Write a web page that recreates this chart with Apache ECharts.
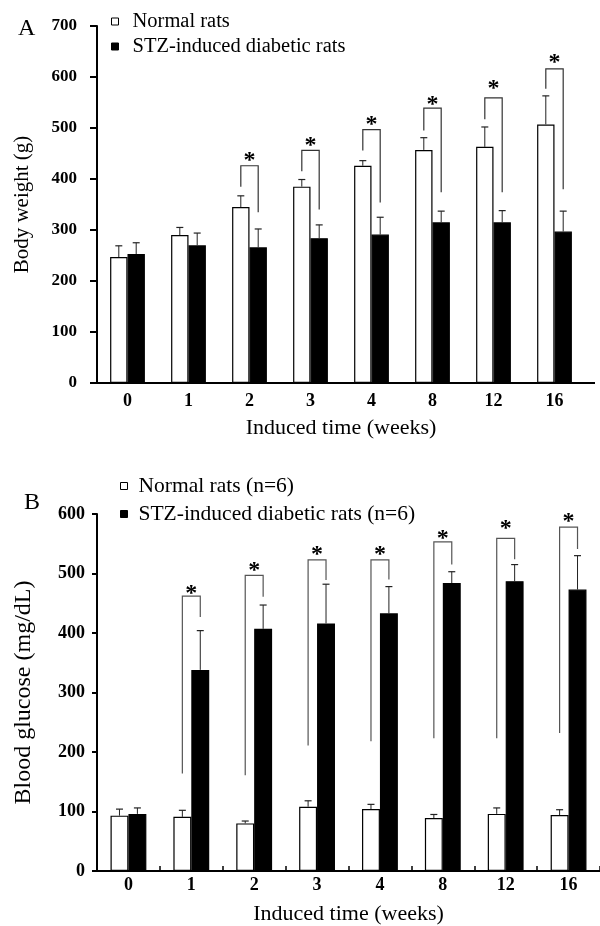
<!DOCTYPE html>
<html>
<head>
<meta charset="utf-8">
<script src="https://cdn.jsdelivr.net/npm/echarts@6/dist/echarts.min.js"></script>
<style>
html,body{margin:0;padding:0;background:#fff;}
#chart{width:600px;height:926px;}
</style>
</head>
<body>
<div id="chart"></div>
<script>
// ---- data ----
const weeks = ['0', '1', '2', '3', '4', '8', '12', '16'];

// Panel A: body weight (g)
const bwNormal = [247, 290, 345, 385, 426, 457, 463, 507];
const bwNormalSD = [22, 15, 22, 14, 10, 24, 39, 56];
const bwDiabetic = [253, 270, 266, 284, 291, 315, 315, 297];
const bwDiabeticSD = [22, 24, 36, 26, 34, 22, 23, 40];
// significance brackets: [category index, left leg bottom, bracket top, right leg bottom, star]
const bwBrackets = [
  [2, 385, 426, 335, 447],
  [3, 415, 456, 340, 477],
  [4, 456, 497, 354, 518],
  [5, 495, 539, 374, 557],
  [6, 517, 559, 374, 589],
  [7, 577, 616, 380, 639]
];
const bwTicks = [0, 100, 200, 300, 400, 500, 600, 700];

// Panel B: blood glucose (mg/dL)
const bgNormal = [93, 91, 80, 108, 104, 89, 96, 94];
const bgNormalSD = [11, 11, 4, 10, 8, 6, 10, 9];
const bgDiabetic = [96, 338, 407, 416, 433, 484, 487, 473];
const bgDiabeticSD = [10, 66, 40, 66, 45, 19, 28, 57];
const bgBrackets = [
  [1, 164, 462, 427, 476],
  [2, 161, 497, 461, 515],
  [3, 211, 523, 489, 541],
  [4, 218, 523, 490, 541],
  [5, 223, 553, 515, 568],
  [6, 223, 559, 524, 585],
  [7, 232, 578, 541, 597]
];
const bgTicks = [0, 100, 200, 300, 400, 500, 600];

// ---- chart ----
const FONT = 'Liberation Serif';
const GAP = 0.43; // barCategoryGap fraction

function barOffset(api, side) {
  const band = api.size([1, 0])[0];
  const w = band * (1 - GAP) / 2;
  return side * w / 2;
}

function errorRender(side) {
  return function (params, api) {
    const i = api.value(0), m = api.value(1), sd = api.value(2);
    const p0 = api.coord([i, m]);
    const p1 = api.coord([i, m + sd]);
    const x = p0[0] + barOffset(api, side);
    return {
      type: 'group',
      children: [
        { type: 'line', shape: { x1: x, y1: p0[1], x2: x, y2: p1[1] }, style: { stroke: '#222', lineWidth: 1 } },
        { type: 'line', shape: { x1: x - 3.5, y1: p1[1], x2: x + 3.5, y2: p1[1] }, style: { stroke: '#222', lineWidth: 1.2 } }
      ]
    };
  };
}

function bracketRender(color) {
  return function (params, api) {
    const i = api.value(0);
    const lb = api.coord([i, api.value(1)]);
    const tp = api.coord([i, api.value(2)]);
    const rb = api.coord([i, api.value(3)]);
    const st = api.coord([i, api.value(4)]);
    const xl = lb[0] + barOffset(api, -1);
    const xr = lb[0] + barOffset(api, 1);
    return {
      type: 'group',
      children: [
        { type: 'polyline', shape: { points: [[xl, lb[1]], [xl, tp[1]], [xr, tp[1]], [xr, rb[1]]] },
          style: { stroke: color, lineWidth: 1.2, fill: null } },
        { type: 'text', style: { text: '*', x: (xl + xr) / 2, y: st[1] + 6, align: 'center', verticalAlign: 'middle',
          font: 'bold 24px "' + FONT + '"', fill: '#000' } }
      ]
    };
  };
}

function zip(a, b) { return a.map((v, i) => [i, v, b[i]]); }

const chart = echarts.init(document.getElementById('chart'), null, { renderer: 'canvas' });

const axisLineStyle = { show: true, lineStyle: { color: '#000', width: 2 } };

const option = {
  backgroundColor: '#fff',
  animation: false,
  title: [
    { text: 'A', left: 18, top: 17, padding: 0, textStyle: { fontFamily: FONT, fontSize: 24, fontWeight: 'normal', color: '#000' } },
    { text: 'B', left: 24, top: 491, padding: 0, textStyle: { fontFamily: FONT, fontSize: 24, fontWeight: 'normal', color: '#000' } }
  ],
  legend: [
    {
      orient: 'vertical', left: 111, top: 11, padding: 0, itemWidth: 7, itemHeight: 7, itemGap: 4,
      icon: 'rect', selectedMode: false,
      data: [
        { name: 'Normal rats', itemStyle: { color: '#fff', borderColor: '#000', borderWidth: 1 } },
        { name: 'STZ-induced diabetic rats', itemStyle: { color: '#000', borderColor: '#000', borderWidth: 1 } }
      ],
      textStyle: { fontFamily: FONT, fontSize: 20.5, lineHeight: 20, color: '#000', padding: [0, 0, 0, 9] }
    },
    {
      orient: 'vertical', left: 120, top: 475, padding: 0, itemWidth: 7, itemHeight: 7, itemGap: 6,
      icon: 'rect', selectedMode: false,
      data: [
        { name: 'Normal rats (n=6)', itemStyle: { color: '#fff', borderColor: '#000', borderWidth: 1 } },
        { name: 'STZ-induced diabetic rats (n=6)', itemStyle: { color: '#000', borderColor: '#000', borderWidth: 1 } }
      ],
      textStyle: { fontFamily: FONT, fontSize: 21.5, lineHeight: 21, color: '#000', padding: [0, 0, 0, 6] }
    }
  ],
  grid: [
    { left: 97, top: 26, width: 488, height: 357 },
    { left: 97, top: 514, width: 507, height: 361 }
  ],
  xAxis: [
    {
      gridIndex: 0, type: 'category', data: weeks,
      axisLine: axisLineStyle, axisTick: { show: false },
      axisLabel: { fontFamily: FONT, fontSize: 18, fontWeight: 'bold', color: '#000', margin: 9 },
      name: 'Induced time (weeks)', nameLocation: 'middle', nameGap: 34,
      nameTextStyle: { fontFamily: FONT, fontSize: 22, color: '#000' }
    },
    {
      gridIndex: 1, type: 'category', data: weeks,
      axisLine: axisLineStyle,
      axisTick: { show: true, inside: true, length: 5, lineStyle: { color: '#000', width: 1.5 } },
      axisLabel: { fontFamily: FONT, fontSize: 18, fontWeight: 'bold', color: '#000', margin: 5 },
      name: 'Induced time (weeks)', nameLocation: 'middle', nameGap: 32,
      nameTextStyle: { fontFamily: FONT, fontSize: 22, color: '#000' }
    }
  ],
  yAxis: [
    {
      gridIndex: 0, type: 'value', min: bwTicks[0], max: bwTicks[bwTicks.length - 1], interval: 100,
      axisLine: axisLineStyle, splitLine: { show: false },
      axisTick: { show: true, length: 7, lineStyle: { color: '#000', width: 2 } },
      axisLabel: { fontFamily: FONT, fontSize: 17, fontWeight: 'bold', color: '#000', margin: 20 },
      name: 'Body weight (g)', nameLocation: 'middle', nameGap: 64, nameRotate: 90,
      nameTextStyle: { fontFamily: FONT, fontSize: 21, color: '#000' }
    },
    {
      gridIndex: 1, type: 'value', min: bgTicks[0], max: bgTicks[bgTicks.length - 1], interval: 100,
      axisLine: axisLineStyle, splitLine: { show: false },
      axisTick: { show: true, length: 5, lineStyle: { color: '#000', width: 2 } },
      axisLabel: { fontFamily: FONT, fontSize: 18, fontWeight: 'bold', color: '#000', margin: 12 },
      name: 'Blood glucose (mg/dL)', nameLocation: 'middle', nameGap: 61, nameRotate: 90,
      nameTextStyle: { fontFamily: FONT, fontSize: 24, color: '#000' }
    }
  ],
  series: [
    { name: 'Normal rats', type: 'bar', xAxisIndex: 0, yAxisIndex: 0, data: bwNormal,
      barGap: '0%', barCategoryGap: (GAP * 100) + '%',
      itemStyle: { color: '#fff', borderColor: '#000', borderWidth: 1.2 } },
    { name: 'STZ-induced diabetic rats', type: 'bar', xAxisIndex: 0, yAxisIndex: 0, data: bwDiabetic,
      barGap: '0%', barCategoryGap: (GAP * 100) + '%',
      itemStyle: { color: '#000', borderColor: '#000', borderWidth: 1.2 } },
    { type: 'custom', xAxisIndex: 0, yAxisIndex: 0, renderItem: errorRender(-1), data: zip(bwNormal, bwNormalSD), z: 5, silent: true },
    { type: 'custom', xAxisIndex: 0, yAxisIndex: 0, renderItem: errorRender(1), data: zip(bwDiabetic, bwDiabeticSD), z: 5, silent: true },
    { type: 'custom', xAxisIndex: 0, yAxisIndex: 0, renderItem: bracketRender('#333'), data: bwBrackets, z: 6, silent: true },

    { name: 'Normal rats (n=6)', type: 'bar', xAxisIndex: 1, yAxisIndex: 1, data: bgNormal,
      barGap: '0%', barCategoryGap: (GAP * 100) + '%',
      itemStyle: { color: '#fff', borderColor: '#000', borderWidth: 1.2 } },
    { name: 'STZ-induced diabetic rats (n=6)', type: 'bar', xAxisIndex: 1, yAxisIndex: 1, data: bgDiabetic,
      barGap: '0%', barCategoryGap: (GAP * 100) + '%',
      itemStyle: { color: '#000', borderColor: '#000', borderWidth: 1.2 } },
    { type: 'custom', xAxisIndex: 1, yAxisIndex: 1, renderItem: errorRender(-1), data: zip(bgNormal, bgNormalSD), z: 5, silent: true },
    { type: 'custom', xAxisIndex: 1, yAxisIndex: 1, renderItem: errorRender(1), data: zip(bgDiabetic, bgDiabeticSD), z: 5, silent: true },
    { type: 'custom', xAxisIndex: 1, yAxisIndex: 1, renderItem: bracketRender('#555'), data: bgBrackets, z: 6, silent: true }
  ]
};
chart.setOption(option);

// extend panel A's x-axis line slightly past the last category, as in the original figure
const origin = chart.convertToPixel({ xAxisIndex: 0, yAxisIndex: 0 }, [weeks.length - 1, 0]);
const bandA = chart.getModel().getComponent('xAxis', 0).axis.getBandWidth();
const xEnd = origin[0] + bandA / 2;
chart.setOption({
  graphic: [{
    type: 'line', silent: true, z: 10,
    shape: { x1: xEnd - 1, y1: origin[1], x2: xEnd + 10, y2: origin[1] },
    style: { stroke: '#000', lineWidth: 2 }
  }]
});
</script>
</body>
</html>
